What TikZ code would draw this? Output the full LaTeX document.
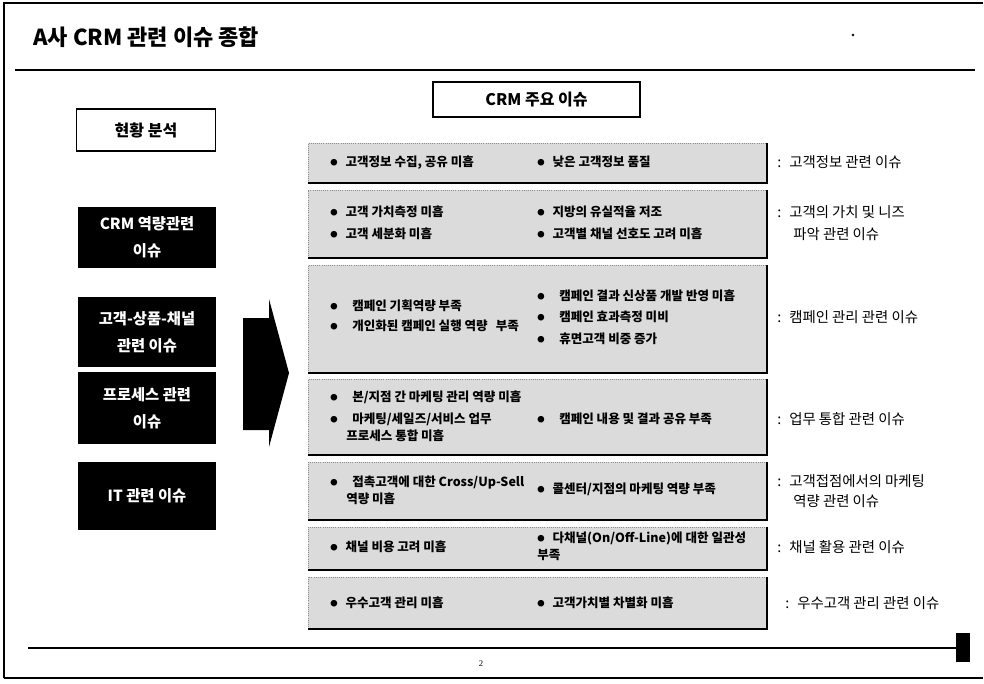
\documentclass[tikz,border=0pt]{standalone}
\usepackage{fontspec}
\setmainfont{Noto Sans CJK KR}
\newfontfamily\pagefont{Liberation Serif}
\newcommand{\bu}{{\fontsize{5.5}{6}\selectfont\raisebox{0.6pt}{●}}}
\begin{document}
\begin{tikzpicture}[x=0.75pt,y=-0.75pt,
  item/.style={anchor=west, inner sep=0pt, font=\bfseries\fontsize{9.4}{11}\selectfont, text height=7pt, text depth=1.6pt},
  lab/.style={anchor=west, inner sep=0pt, font=\fontsize{10.8}{13}\selectfont, text height=8pt, text depth=2pt},
  blackbox/.style={fill=black, text=white, align=center, font=\bfseries\fontsize{11.5}{20}\selectfont, minimum width=103.5pt, inner sep=0pt},
  whitebox/.style={draw=black, line width=1.2pt, fill=white, align=center, font=\bfseries\fontsize{12}{14}\selectfont, inner sep=0pt},
  rowfill/.style={fill=black!14},
  rowline/.style={black, line width=1pt},
  rowdot/.style={black!45, line width=0.6pt, densely dotted}
]
\useasboundingbox (0,0) rectangle (984,683);
\fill[white] (0,0) rectangle (984,683);
% page frame
\draw[line width=0.9pt] (4,678) -- (4,3) -- (983,3);
\draw[line width=0.9pt] (4,678) -- (983,678);
% title
\node[anchor=west, inner sep=0pt, font=\bfseries\fontsize{16.5}{19}\selectfont] (title) at (33,37) {A사 CRM 관련 이슈 종합};
\draw[line width=2pt] (15,70) -- (975,70);
\fill (853,35) circle (1.3);
% left column
\node[whitebox, minimum width=104pt, minimum height=31.5pt] (cur) at (146,130) {현황 분석};
\node[blackbox, minimum height=45.75pt] (b1) at (147,237.5) {CRM 역량관련\\이슈};
\node[blackbox, minimum height=52.5pt] (b2) at (147,332) {고객-상품-채널\\관련 이슈};
\node[blackbox, minimum height=54pt] (b3) at (147,408) {프로세스 관련\\이슈};
\node[blackbox, minimum height=51pt] (b4) at (147,496) {IT 관련 이슈};
% block arrow
\fill (243,318) -- (269,318) -- (269,299) -- (289,373) -- (269,447) -- (269,430) -- (243,430) -- cycle;
% header
\node[whitebox, minimum width=155.25pt, minimum height=26.25pt] (hdr) at (536.5,99.5) {CRM 주요 이슈};
% table rows
\foreach \t/\b in {143/183, 190/258, 265/373, 379/455, 462/520, 527/570, 577/629}{
  \fill[rowfill] (308,\t) rectangle (767,\b);
  \draw[rowdot] (308,\b) -- (308,\t) -- (767,\t);
  \draw[rowline] (308,\b) -- (767,\b) -- (767,\t);
}
% row 1
\node[item] (r1a) at (330,163) {\bu\hspace{6pt}고객정보 수집, 공유 미흡};
\node[item] (r1b) at (537,163) {\bu\hspace{6pt}낮은 고객정보 품질};
\node[lab] (r1l) at (777,163) {:\hspace{6pt}고객정보 관련 이슈};
% row 2
\node[item] (r2a) at (330,213) {\bu\hspace{6pt}고객 가치측정 미흡};
\node[item] (r2b) at (330,235) {\bu\hspace{6pt}고객 세분화 미흡};
\node[item] (r2c) at (537,213) {\bu\hspace{6pt}지방의 유실적율 저조};
\node[item] (r2d) at (537,235) {\bu\hspace{6pt}고객별 채널 선호도 고려 미흡};
\node[lab] (r2l) at (777,213) {:\hspace{6pt}고객의 가치 및 니즈};
\node[lab] (r2m) at (793,235) {파악 관련 이슈};
% row 3
\node[item] (r3a) at (330,307) {\bu\hspace{11pt}캠페인 기획역량 부족};
\node[item] (r3b) at (330,327) {\bu\hspace{11pt}개인화된 캠페인 실행 역량\hspace{4pt} 부족};
\node[item] (r3c) at (537,297) {\bu\hspace{11pt}캠페인 결과 신상품 개발 반영 미흡};
\node[item] (r3d) at (537,318) {\bu\hspace{11pt}캠페인 효과측정 미비};
\node[item] (r3e) at (537,340) {\bu\hspace{11pt}휴면고객 비중 증가};
\node[lab] (r3l) at (777,318) {:\hspace{6pt}캠페인 관리 관련 이슈};
% row 4
\node[item] (r4a) at (330,398) {\bu\hspace{11pt}본/지점 간 마케팅 관리 역량 미흡};
\node[item] (r4b) at (330,420) {\bu\hspace{11pt}마케팅/세일즈/서비스 업무};
\node[item] (r4c) at (346,437) {프로세스 통합 미흡};
\node[item] (r4d) at (537,420) {\bu\hspace{11pt}캠페인 내용 및 결과 공유 부족};
\node[lab] (r4l) at (777,420) {:\hspace{6pt}업무 통합 관련 이슈};
% row 5
\node[item] (r5a) at (330,483) {\bu\hspace{11pt}접촉고객에 대한 Cross/Up-Sell};
\node[item] (r5b) at (346,500) {역량 미흡};
\node[item] (r5c) at (537,490) {\bu\hspace{6pt}콜센터/지점의 마케팅 역량 부족};
\node[lab] (r5l) at (777,482) {:\hspace{6pt}고객접점에서의 마케팅};
\node[lab] (r5m) at (793,502) {역량 관련 이슈};
% row 6
\node[item] (r6a) at (330,548) {\bu\hspace{6pt}채널 비용 고려 미흡};
\node[item] (r6b) at (537,539) {\bu\hspace{6pt}다채널(On/Off-Line)에 대한 일관성};
\node[item] (r6c) at (537,556) {부족};
\node[lab] (r6l) at (777,548) {:\hspace{6pt}채널 활용 관련 이슈};
% row 7
\node[item] (r7a) at (330,604) {\bu\hspace{6pt}우수고객 관리 미흡};
\node[item] (r7b) at (537,604) {\bu\hspace{6pt}고객가치별 차별화 미흡};
\node[lab] (r7l) at (785,604) {:\hspace{6pt}우수고객 관리 관련 이슈};
% footer
\draw[line width=1.5pt] (28,648) -- (958,648);
\fill (956,633) rectangle (970,662);
\node[inner sep=0pt, font=\pagefont\fontsize{6.5}{8}\selectfont] (pg) at (481,664) {2};
\end{tikzpicture}
\end{document}
